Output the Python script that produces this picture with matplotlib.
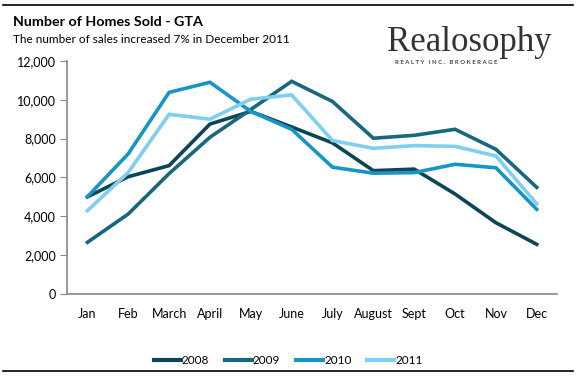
import numpy as np
import matplotlib.pyplot as plt
from matplotlib.lines import Line2D
from matplotlib.ticker import FuncFormatter

plt.rcParams['font.family'] = ['Lato', 'DejaVu Sans']

months = ['Jan', 'Feb', 'March', 'April', 'May', 'June', 'July',
          'August', 'Sept', 'Oct', 'Nov', 'Dec']
years = ['2008', '2009', '2010', '2011']

sales_2008 = [5000, 6040, 6610, 8750, 9400, 8600, 7780, 6350, 6430, 5150, 3670, 2560]
sales_2009 = [2660, 4120, 6200, 8070, 9500, 10950, 9910, 8020, 8170, 8480, 7450, 5490]
sales_2010 = [5010, 7220, 10380, 10900, 9400, 8480, 6530, 6220, 6250, 6680, 6500, 4360]
sales_2011 = [4290, 6260, 9250, 9000, 10030, 10250, 7900, 7500, 7640, 7600, 7110, 4640]

colors = ['#0c4556', '#19667f', '#1796c4', '#7ecff0']

fig = plt.figure(figsize=(5.76, 3.76), dpi=100)
ax = fig.add_axes([0.1163, 0.218, 0.851, 0.62])

x = np.arange(len(months))
for data, c in zip([sales_2008, sales_2009, sales_2010, sales_2011], colors):
    ax.plot(x, data, color=c, lw=2.6, solid_joinstyle='miter')

ax.set_xlim(-0.5, 11.5)
ax.set_ylim(0, 12000)
ax.set_yticks(range(0, 12001, 2000))
ax.yaxis.set_major_formatter(FuncFormatter(lambda v, p: f'{int(v):,}'))
ax.set_xticks(x)
ax.set_xticklabels(months)
ax.tick_params(axis='x', length=0, pad=10, labelsize=9)
ax.tick_params(axis='y', length=5, color='#888888', labelsize=9, pad=3)

for s in ['top', 'right']:
    ax.spines[s].set_visible(False)
for s in ['left', 'bottom']:
    ax.spines[s].set_color('#888888')
    ax.spines[s].set_linewidth(1.2)

handles = [Line2D([0], [0], color=c, lw=3) for c in colors]
fig.legend(handles, years, loc='center', bbox_to_anchor=(0.5, 0.042), ncol=4,
           frameon=False, fontsize=8.5, handlelength=2.3, handletextpad=0.1,
           columnspacing=1.3)

fig.text(0.0226, 0.942, 'Number of Homes Sold - GTA', fontsize=10.3,
         fontweight='bold', va='center')
fig.text(0.0226, 0.895, 'The number of sales increased 7% in December 2011',
         fontsize=8.5, va='center')

fig.text(0.672, 0.888, 'Realosophy', family='Liberation Serif', fontsize=25,
         color='#333333', va='center')
fig.text(0.686, 0.833, 'R E A L T Y   I N C .   B R O K E R A G E', fontsize=4.3,
         color='#444444', va='center', fontweight='bold')

fig.add_artist(Line2D([0.005, 0.995], [0.987, 0.987], color='black', lw=1.2))
fig.add_artist(Line2D([0.005, 0.995], [0.013, 0.013], color='black', lw=1.2))

fig.savefig('out.png', dpi=100)
